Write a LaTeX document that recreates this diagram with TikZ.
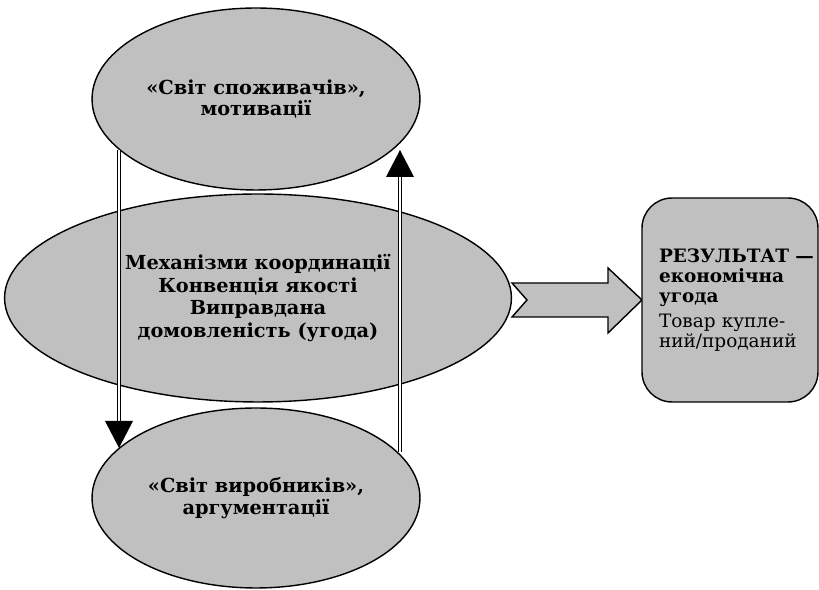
\documentclass[tikz,border=0pt]{standalone}
\usepackage{fontspec}
\setmainfont{DejaVu Serif}
\usepackage{tikz}
\usetikzlibrary{shapes.geometric}
\definecolor{silver}{HTML}{C0C0C0}
\tikzstyle{world} = [draw, ellipse, fill=silver, line width=0.8pt, inner sep=0pt, align=center, font=\bfseries\fontsize{11}{12.5}\selectfont]
\tikzstyle{twin} = [draw, double distance=1.6pt, line width=0.6pt, shorten >=0.5cm]

\begin{document}
\begin{tikzpicture}[x=0.02cm, y=-0.02cm]
	\useasboundingbox (0,0) rectangle (819,590);
	% -------------- Block arrow --------------
	\draw[fill=silver, line width=0.8pt] (512,283) -- (608,283) -- (608,268) -- (642,300) -- (608,333) -- (608,317) -- (512,317) -- (527,300) -- cycle;
	% -------------- Worlds --------------
	\node[world, minimum width=6.56cm,  minimum height=3.64cm] (cons)  at (256,99)  {«Світ споживачів»,\\мотивації};
	\node[world, minimum width=10.14cm, minimum height=4.16cm, font=\bfseries\fontsize{11}{13}\selectfont] (coord) at (258,298) {Механізми координації\\Конвенція якості\\Виправдана\\домовленість (угода)};
	\node[world, minimum width=6.56cm,  minimum height=3.6cm]  (prod)  at (256,498) {«Світ виробників»,\\аргументації};
	% -------------- Result --------------
	\node[draw, rounded corners=0.6cm, fill=silver, line width=0.8pt, minimum width=3.52cm, minimum height=4.08cm, text width=2.84cm, align=left, inner sep=0pt, font=\fontsize{10.5}{11.4}\selectfont] (result) at (730,300)
		{{\bfseries \mbox{РЕЗУЛЬТАТ —}\\економічна\\угода}\\[3pt]Товар купле-\\ний/проданий};
	% -------------- Double arrows --------------
	\coordinate (down-from) at (119,150);
	\coordinate (down-to)   at (119,448);
	\coordinate (up-from)   at (400,452);
	\coordinate (up-to)     at (400,150);
	\draw[twin] (down-from) -- (down-to);
	\fill (down-to) -- ++(-14,-27) -- ++(28,0) -- cycle;
	\draw[twin] (up-from) -- (up-to);
	\fill (up-to) -- ++(-14,27) -- ++(28,0) -- cycle;
\end{tikzpicture}
\end{document}
